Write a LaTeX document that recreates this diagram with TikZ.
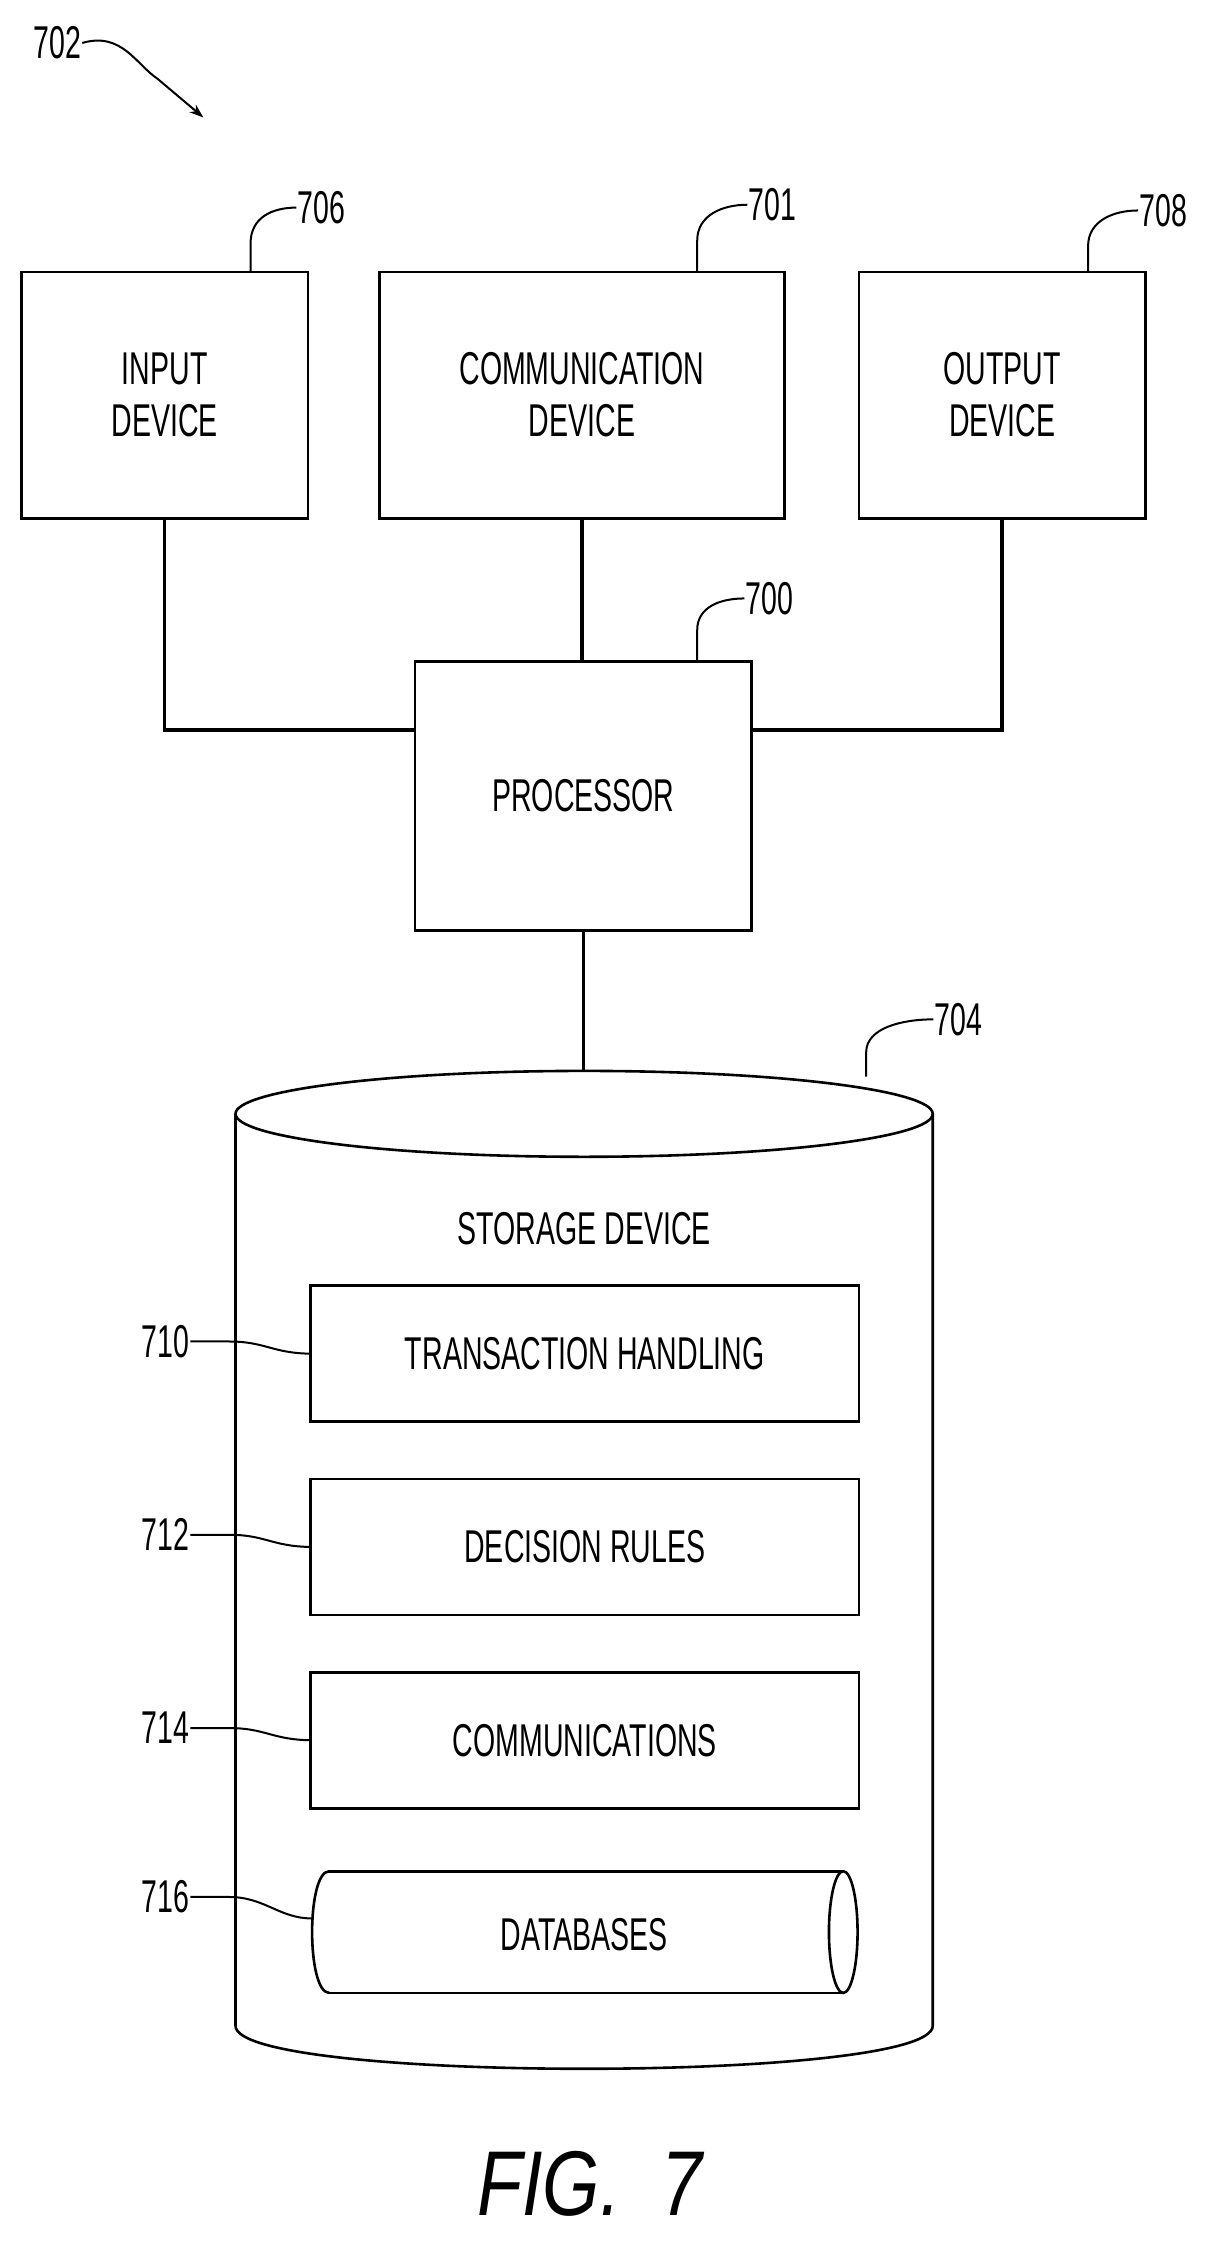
\documentclass[tikz,border=0pt]{standalone}
\usetikzlibrary{arrows.meta}
\usepackage{fontspec}
\setmainfont{Liberation Sans}[FakeStretch=0.62]
\newfontfamily\figfont{Liberation Sans}[FakeStretch=0.8]
\begin{document}
\begin{tikzpicture}[x=1.4316pt,y=-1.4316pt,
  box/.style={draw,line width=2.6pt,inner sep=0pt,font=\fontsize{46}{52}\selectfont,align=center},
  wire/.style={line width=3.6pt},
  lead/.style={line width=2pt},
  lbl/.style={font=\fontsize{46}{52}\selectfont,inner sep=1pt}]
\useasboundingbox (0,0) rectangle (855,1566);
% top boxes
\node[box,minimum width=200*1.4316pt,minimum height=172*1.4316pt] (in) at (115,276) {INPUT\\DEVICE};
\node[box,minimum width=283*1.4316pt,minimum height=172*1.4316pt] (com) at (406.5,276) {COMMUNICATION\\DEVICE};
\node[box,minimum width=200*1.4316pt,minimum height=172*1.4316pt] (out) at (700,276) {OUTPUT\\DEVICE};
\node[box,minimum width=235*1.4316pt,minimum height=188*1.4316pt] (proc) at (407.5,556) {PROCESSOR};
% storage cylinder
\coordinate (cyl) at (408,778);
\draw[line width=2.6pt] (cyl) ellipse [x radius=243.5, y radius=30];
\draw[line width=2.6pt] (164.5,778) -- (164.5,1415) .. controls (164.5,1455) and (651.5,1455) .. (651.5,1415) -- (651.5,778);
\node[lbl] (sd) at (408,858) {STORAGE DEVICE};
% connectors
\draw[wire] (in.south) |- (proc.west |- 0,510);
\draw[wire] (out.south) |- (proc.east |- 0,510);
\draw[wire] (com.south) -- (proc.north -| com.south);
\draw[wire] (proc.south) -- (407.5,748);
% inner boxes
\node[box,minimum width=383*1.4316pt,minimum height=95*1.4316pt] (th) at (408.5,945.5) {TRANSACTION HANDLING};
\node[box,minimum width=383*1.4316pt,minimum height=95*1.4316pt] (dr) at (408.5,1080.5) {DECISION RULES};
\node[box,minimum width=383*1.4316pt,minimum height=95*1.4316pt] (cm) at (408.5,1215.5) {COMMUNICATIONS};
% databases
\draw[line width=2.6pt] (230,1307) -- (589,1307);
\draw[line width=2.6pt] (230,1392) -- (589,1392);
\draw[line width=2.6pt] (230,1307) .. controls (214,1307) and (214,1392) .. (230,1392);
\draw[line width=2.6pt] (589,1349.5) ellipse [x radius=10, y radius=42.5];
\node[lbl] (db) at (408,1351) {DATABASES};
% reference labels
\node[lbl,anchor=west] (l706) at (207,145) {706};
\draw[lead] (175,190) -- (175,170) .. controls (175,152) and (190,145) .. (l706.west);
\node[lbl,anchor=west] (l701) at (522,143) {701};
\draw[lead] (487,190) -- (487,168) .. controls (487,150) and (505,143) .. (l701.west);
\node[lbl,anchor=west] (l708) at (795,147) {708};
\draw[lead] (760,190) -- (760,172) .. controls (760,154) and (778,147) .. (l708.west);
\node[lbl,anchor=west] (l700) at (520,418) {700};
\draw[lead] (487,462) -- (487,440) .. controls (487,424) and (503,418) .. (l700.west);
\node[lbl,anchor=west] (l704) at (652,712) {704};
\draw[lead] (605,752) -- (605,735) .. controls (605,718) and (630,712) .. (l704.west);
\node[lbl,anchor=east] (l710) at (133,937) {710};
\draw[lead] (l710.east) -- (160,937) .. controls (185,937) and (190,945) .. (th.west);
\node[lbl,anchor=east] (l712) at (133,1072) {712};
\draw[lead] (l712.east) -- (160,1072) .. controls (185,1072) and (190,1080) .. (dr.west);
\node[lbl,anchor=east] (l714) at (133,1207) {714};
\draw[lead] (l714.east) -- (160,1207) .. controls (185,1207) and (190,1215) .. (cm.west);
\node[lbl,anchor=east] (l716) at (133,1325) {716};
\coordinate (dbw) at (218,1340);
\draw[lead] (l716.east) -- (160,1325) .. controls (185,1325) and (195,1340) .. (dbw);
\node[lbl] (l702) at (40,30) {702};
\coordinate (a702) at (142,82);
\draw[lead,-{Stealth[length=14pt,width=10pt]}] (l702.east) .. controls (85,22) and (95,45) .. (110,55) -- (a702);
% caption
\node[font=\figfont\itshape\fontsize{92}{100}\selectfont] (fig) at (412,1525) {FIG.~~7};
\end{tikzpicture}
\end{document}
